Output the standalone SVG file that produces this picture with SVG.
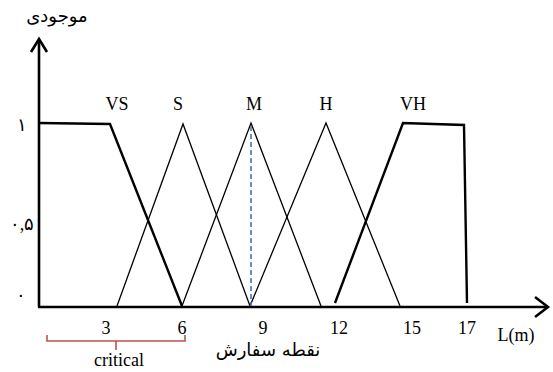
<svg xmlns="http://www.w3.org/2000/svg" width="553" height="372" viewBox="0 0 553 372">
<style>
.t{font-family:'Liberation Serif','DejaVu Serif',serif;font-size:18px;fill:#000;text-anchor:middle}
.fa{font-family:'DejaVu Sans','Noto Sans',sans-serif;font-size:18px;fill:#000;text-anchor:middle}
.thick{fill:none;stroke:#000;stroke-width:2.4;stroke-linejoin:miter}
.thin{fill:none;stroke:#000;stroke-width:1.3}
.axis{fill:none;stroke:#000;stroke-width:2.6}
</style>
<rect width="553" height="372" fill="#fff"/>
<g id="axes">
<line class="axis" x1="39" y1="307" x2="39" y2="40"/>
<polyline class="axis" points="31,52 39,39 47,52"/>
<line class="axis" x1="38" y1="307" x2="547" y2="307"/>
<polyline class="axis" points="535,297 548,307 535,317"/>
</g>
<g id="VS"><polyline class="thick" points="39,123 110,124 182,306"/></g>
<g id="S"><polyline class="thin" points="117,306 183,124 250,306"/></g>
<g id="M"><polyline class="thin" points="182,306 251,123 321,306"/></g>
<g id="H"><polyline class="thin" points="250,306 326,123 400,306"/></g>
<g id="VH"><polyline class="thick" points="335,303 403,123 464,125 467,303"/></g>
<g id="connectors">
<line x1="251" y1="126" x2="251" y2="306" stroke="#4472C4" stroke-width="1.6" stroke-dasharray="5,3"/>
<polyline points="47,335 47,341 185,341 185,335" fill="none" stroke="#C0504D" stroke-width="1.6"/>
<line x1="116" y1="341" x2="116" y2="350" stroke="#C0504D" stroke-width="1.6"/>
</g>
<g id="labels">
<text class="t" font-family="Liberation Serif, serif" x="117" y="110">VS</text>
<text class="t" font-family="Liberation Serif, serif" x="178" y="110">S</text>
<text class="t" font-family="Liberation Serif, serif" x="254" y="110">M</text>
<text class="t" font-family="Liberation Serif, serif" x="326" y="110">H</text>
<text class="t" font-family="Liberation Serif, serif" x="413" y="110">VH</text>
<text class="t" font-family="Liberation Serif, serif" x="22" y="131">۱</text>
<text class="t" font-family="Liberation Serif, serif" x="22" y="230">۰,۵</text>
<text class="t" font-family="Liberation Serif, serif" x="21" y="301">۰</text>
<text class="t" font-family="Liberation Serif, serif" x="106" y="334">3</text>
<text class="t" font-family="Liberation Serif, serif" x="182" y="334">6</text>
<text class="t" font-family="Liberation Serif, serif" x="263" y="334">9</text>
<text class="t" font-family="Liberation Serif, serif" x="339" y="334">12</text>
<text class="t" font-family="Liberation Serif, serif" x="412" y="334">15</text>
<text class="t" font-family="Liberation Serif, serif" x="467" y="334">17</text>
<text class="t" font-family="Liberation Serif, serif" x="516" y="341">L(m)</text>
<text class="t" font-family="Liberation Serif, serif" x="119" y="366">critical</text>
<text class="fa" x="268" y="356" direction="rtl">نقطه سفارش</text>
<text class="fa" x="57" y="22" direction="rtl">موجودی</text>
</g>
</svg>
